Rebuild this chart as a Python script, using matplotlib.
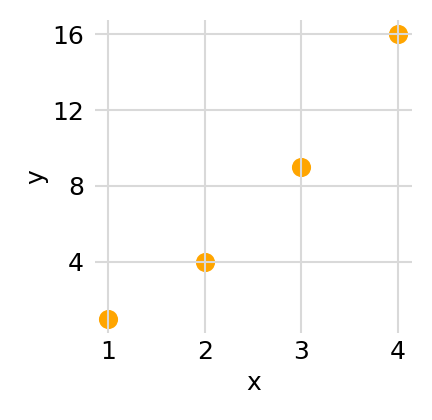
import matplotlib
matplotlib.use("Agg")
import matplotlib.pyplot as plt

x = [1, 2, 3, 4]
y = [1, 4, 9, 16]
xticks = [1, 2, 3, 4]
yticks = [4, 8, 12, 16]

fig = plt.figure(figsize=(4.32, 4.2), dpi=100)
ax = fig.add_axes([95/432, 1 - 333/420, (412-95)/432, (333-20)/420])
ax.scatter(x, y, s=190, color="#FFA500", zorder=1, linewidths=0)
ax.set_xlim(0.866, 4.145)
ax.set_ylim(0.26, 16.74)
ax.set_xticks(xticks)
ax.set_yticks(yticks)
ax.grid(True, color="#d9d9d9", linewidth=1.5, zorder=3)
ax.set_axisbelow(False)
for s in ax.spines.values():
    s.set_visible(False)
ax.tick_params(axis="x", length=0, labelsize=18, pad=5)
ax.tick_params(axis="y", length=0, labelsize=18, pad=8)
ax.set_xlabel("x", fontsize=18, labelpad=5)
ax.set_ylabel("y", fontsize=18, labelpad=3)
fig.savefig("out.png", dpi=100)
